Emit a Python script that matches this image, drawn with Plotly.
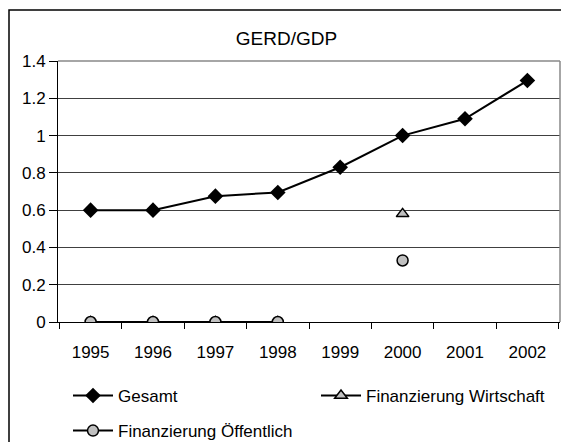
import plotly.graph_objects as go

years = ["1995", "1996", "1997", "1998", "1999", "2000", "2001", "2002"]
gesamt = [0.6, 0.6, 0.675, 0.695, 0.83, 1.0, 1.09, 1.295]
wirtschaft = [0, 0, 0, 0, None, 0.58, None, None]
oeffentlich = [0, 0, 0, 0, None, 0.33, None, None]

FONT = "Liberation Sans, Arial, sans-serif"
W, H = 561, 434
ML, MR, MT, MB = 50, 9, 53, 120
PW, PH = W - ML - MR, H - MT - MB

fig = go.Figure()
fig.add_trace(go.Scatter(
    x=years, y=gesamt, name="Gesamt", mode="lines+markers", legend="legend",
    line=dict(color="black", width=2),
    marker=dict(symbol="diamond", size=12, color="black"),
))
fig.add_trace(go.Scatter(
    x=years, y=wirtschaft, name="Finanzierung Wirtschaft", mode="lines+markers",
    legend="legend2",
    line=dict(color="black", width=2),
    marker=dict(symbol="triangle-up", size=11, color="#c0c0c0",
                line=dict(color="black", width=1.5)),
))
fig.add_trace(go.Scatter(
    x=years, y=oeffentlich, name="Finanzierung Öffentlich", mode="lines+markers",
    legend="legend3",
    line=dict(color="black", width=2),
    marker=dict(symbol="circle", size=11, color="#c0c0c0",
                line=dict(color="black", width=1.5)),
))


def leg(px, py):
    return dict(orientation="v", x=(px - ML) / PW, xanchor="left",
                y=(H - MB - py) / PH, yanchor="middle",
                font=dict(size=17, family=FONT, color="black"),
                bgcolor="rgba(0,0,0,0)", borderwidth=0, itemwidth=40)


fig.update_layout(
    width=W, height=H,
    margin=dict(l=ML, r=MR, t=MT, b=MB, autoexpand=False),
    paper_bgcolor="white", plot_bgcolor="white",
    font=dict(family=FONT, size=17, color="black"),
    title=dict(text="GERD/GDP", x=(278.5 - ML) / PW, xref="paper", xanchor="center",
               y=1 - 30 / H, yref="container", yanchor="middle",
               font=dict(size=19, family=FONT, color="black")),
    showlegend=True,
    legend=leg(60, 388),
    legend2=leg(308, 388),
    legend3=leg(60, 423),
    xaxis=dict(type="category", showgrid=False, showline=True, linecolor="black",
               linewidth=1, ticks="outside", tickson="boundaries", ticklen=6,
               tickcolor="black", tickfont=dict(size=17), zeroline=False,
               ticklabelstandoff=15, automargin=False),
    yaxis=dict(range=[0, 1.4], dtick=0.2, tick0=0, showgrid=True, gridcolor="#404040",
               gridwidth=1, showline=True, linecolor="black", linewidth=1,
               ticks="outside", ticklen=8, tickcolor="black", tickfont=dict(size=17),
               zeroline=False, automargin=False),
    shapes=[
        dict(type="line", xref="paper", yref="paper", x0=1, x1=1, y0=0, y1=1,
             line=dict(color="#888888", width=1.5)),
        dict(type="line", xref="paper", yref="paper", x0=0, x1=1, y0=1, y1=1,
             line=dict(color="#888888", width=1.5)),
        dict(type="rect", xref="paper", yref="paper",
             x0=(1 - ML) / PW, x1=(580 - ML) / PW,
             y0=(H - MB - 460) / PH, y1=(H - MB - 2) / PH,
             line=dict(color="black", width=1.5), fillcolor="rgba(0,0,0,0)",
             layer="below"),
    ],
)

fig.write_html("out.html")
